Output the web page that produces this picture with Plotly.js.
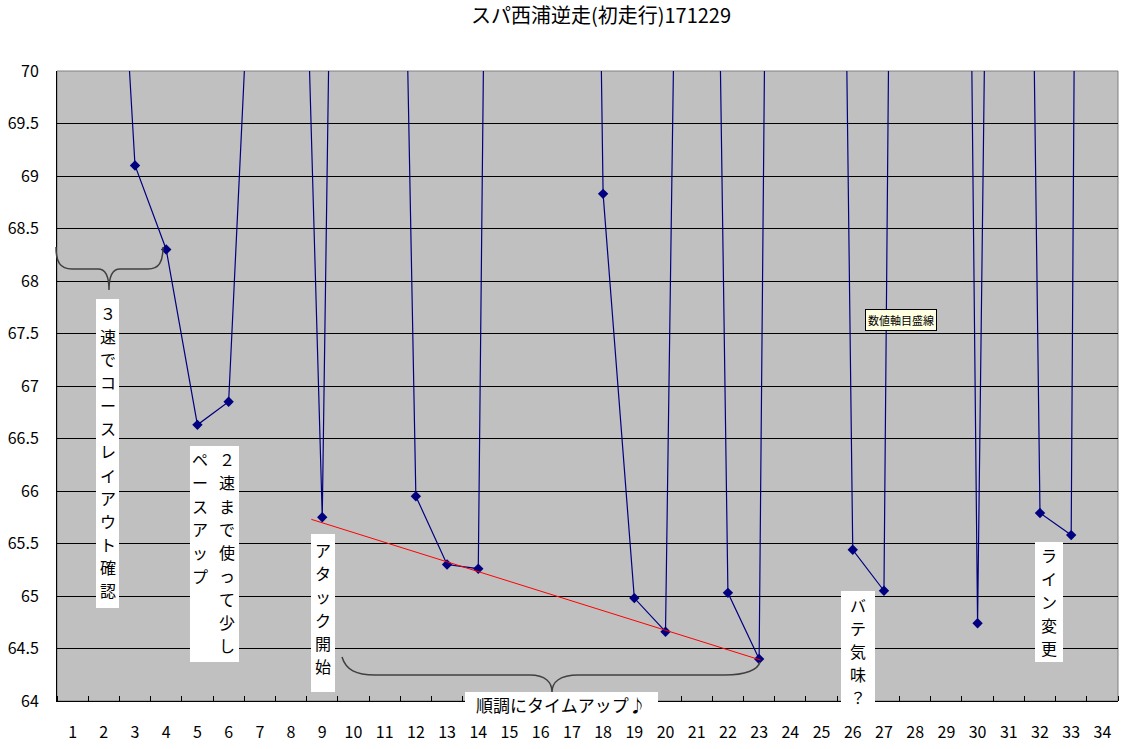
<!DOCTYPE html>
<html>
<head>
<meta charset="utf-8">
<script src="https://cdn.plot.ly/plotly-3.0.1.min.js"></script>
<style>html,body{margin:0;padding:0;background:#fff;}#chart{width:1129px;height:749px;}</style>
</head>
<body>
<div id="chart"></div>
<script>
// ---- data ----
const laps = [1,2,3,4,5,6,7,8,9,10,11,12,13,14,15,16,17,18,19,20,21,22,23,24,25,26,27,28,29,30,31,32,33,34];
const lapTimes = [null,74.2,69.1,68.3,66.63,66.85,73.1,76.2,65.75,86.8,81.6,65.95,65.3,65.26,94.3,95,90,68.83,64.98,64.66,85.8,65.03,64.4,97.4,89.6,65.44,65.05,99.4,93.5,64.74,89,65.79,65.58,113];
const tickLabels = laps.map(String);
const attackLineX = [8.65, 23.05];
const attackLineY = [65.73, 64.39];
const titleText = 'スパ西浦逆走(初走行)171229';
const noteLayout = '３速でコースレイアウト確認';
const notePace1 = '２速まで使って少し';
const notePace2 = 'ペースアップ';
const noteAttack = 'アタック開始';
const noteTimeUp = '順調にタイムアップ♪';
const noteTired = 'バテ気味？';
const noteLine = 'ライン変更';
const noteTip = '数値軸目盛線';

// ---- geometry helpers (plot area pixels -> paper) ----
const L = 57, R = 1118, T = 71, B = 701;
const PX = px => (px - L) / (R - L);
const PY = py => (B - py) / (B - T);
const P = (px, py) => PX(px).toFixed(5) + ',' + PY(py).toFixed(5);
const FONT = "'MS PGothic','Noto Sans CJK JP',sans-serif";

function box(x0, y0, x1, y1) {
  return {type:'rect', xref:'paper', yref:'paper', x0:PX(x0), x1:PX(x1), y0:PY(y1), y1:PY(y0),
    fillcolor:'#ffffff', line:{width:0}, layer:'above'};
}
function pathShape(d) {
  return {type:'path', xref:'paper', yref:'paper', path:d, line:{color:'#404040', width:1.5}, layer:'above'};
}
const brace1 = 'M' + P(56,247) + ' C' + P(56,262) + ' ' + P(60,269) + ' ' + P(72,269) +
  ' L' + P(98,269) + ' C' + P(106,269) + ' ' + P(109,276) + ' ' + P(109,290) +
  ' C' + P(109,276) + ' ' + P(112,269) + ' ' + P(120,269) +
  ' L' + P(148,269) + ' C' + P(159,269) + ' ' + P(163,262) + ' ' + P(163,247);
const brace2 = 'M' + P(342,657) + ' C' + P(346,670) + ' ' + P(356,675) + ' ' + P(375,675) +
  ' L' + P(530,675) + ' C' + P(545,675) + ' ' + P(552,682) + ' ' + P(552,692) +
  ' C' + P(552,682) + ' ' + P(560,675) + ' ' + P(578,675) +
  ' L' + P(725,675) + ' C' + P(745,675) + ' ' + P(758,670) + ' ' + P(760,662);

function note(text, cx, cy, size) {
  return {xref:'paper', yref:'paper', x:PX(cx), y:PY(cy), xanchor:'center', yanchor:'middle',
    text:text, showarrow:false, font:{family:FONT, size:size||16, color:'#000'}, align:'center'};
}
// vertical text: one annotation per character
function vnote(str, cx, firstY, step) {
  return Array.from(str).map((ch, i) => note(ch, cx, firstY + i * step, 16));
}

const traces = [
  {x: laps, y: lapTimes, type:'scatter', mode:'lines+markers',
   line:{color:'#000080', width:1.2}, marker:{symbol:'diamond', size:8, color:'#000080'},
   connectgaps:false, hoverinfo:'x+y'},
  {x: attackLineX, y: attackLineY, type:'scatter', mode:'lines',
   line:{color:'#ff0000', width:1}, hoverinfo:'skip'}
];

const annotations = [].concat(
  vnote(noteLayout, 107.5, 313, 23.08),
  vnote(notePace1, 227, 459, 23.25),
  vnote(notePace2, 200, 459, 23.3),
  vnote(noteAttack, 323, 550, 23.2),
  [note(noteTimeUp, 561, 704, 17)],
  vnote(noteTired, 858, 605, 23),
  vnote(noteLine, 1049, 555, 23.25),
  [{xref:'paper', yref:'paper', x:PX(901), y:PY(320), xanchor:'center', yanchor:'middle',
    text:noteTip, showarrow:false, font:{family:FONT, size:11, color:'#000'},
    bgcolor:'#ffffe1', bordercolor:'#000', borderwidth:1, borderpad:2}]
);

const layout = {
  width:1129, height:749,
  margin:{l:L, r:1129-R, t:T, b:749-B, pad:0},
  paper_bgcolor:'#ffffff', plot_bgcolor:'#c0c0c0',
  showlegend:false,
  title:{text:titleText, x:601/1129, xanchor:'center', y:1-16/749, yanchor:'middle',
    font:{family:FONT, size:20, color:'#000'}},
  xaxis:{range:[0.5,34.5], tickmode:'array', tickvals:laps, ticktext:tickLabels,
    ticks:'', showgrid:false, zeroline:false, showline:true, linecolor:'#000', linewidth:1,
    tickfont:{family:FONT, size:16, color:'#000'}, ticklabelstandoff:17,
    minor:{ticks:'inside', ticklen:5, tickcolor:'#000', tickwidth:1, tick0:0.5, dtick:1, showgrid:false},
    fixedrange:true},
  yaxis:{range:[64,70], tickmode:'linear', tick0:64, dtick:0.5, ticks:'',
    showgrid:true, gridcolor:'#000', gridwidth:1, zeroline:false,
    showline:true, linecolor:'#000', linewidth:1,
    tickfont:{family:FONT, size:16, color:'#000'}, ticklabelstandoff:14, fixedrange:true},
  shapes:[
    {type:'rect', xref:'paper', yref:'paper', x0:0, x1:1, y0:0, y1:1, line:{color:'#808080', width:1}, layer:'below'},
    pathShape(brace1),
    pathShape(brace2),
    box(96,299,119,608),
    box(190,446,239,662),
    box(311,534,335,692),
    box(465,692,658,718),
    box(841,591,875,707),
    box(1035,542,1063,662)
  ],
  annotations: annotations
};

Plotly.newPlot('chart', traces, layout, {displayModeBar:false, staticPlot:true});
</script>
</body>
</html>
